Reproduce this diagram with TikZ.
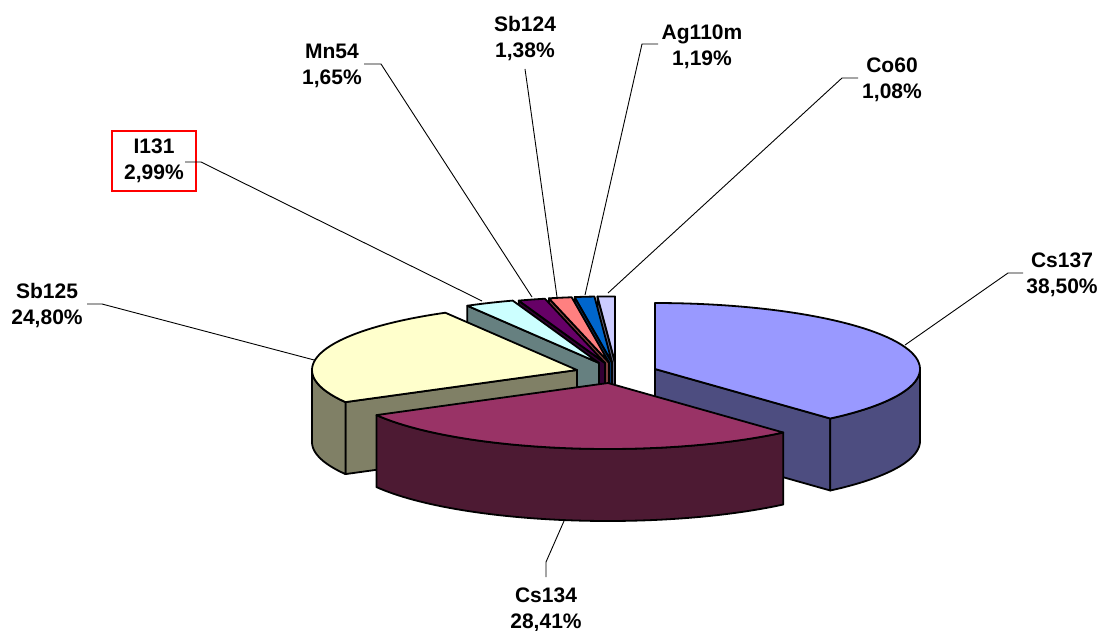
\documentclass[tikz,border=0pt]{standalone}
\usepackage{fontspec}
\setmainfont{Liberation Sans}
\definecolor{cA}{HTML}{9999FF}\definecolor{cAs}{HTML}{4D4D80}
\definecolor{cB}{HTML}{993366}\definecolor{cBs}{HTML}{4D1A33}
\definecolor{cC}{HTML}{FFFFCC}\definecolor{cCs}{HTML}{808066}
\definecolor{cD}{HTML}{CCFFFF}\definecolor{cDs}{HTML}{668080}
\definecolor{cE}{HTML}{660066}\definecolor{cEs}{HTML}{330033}
\definecolor{cF}{HTML}{FF8080}\definecolor{cFs}{HTML}{804040}
\definecolor{cG}{HTML}{0066CC}\definecolor{cGs}{HTML}{003366}
\definecolor{cH}{HTML}{CCCCFF}\definecolor{cHs}{HTML}{666680}
\def\pieRX{265}
\def\pieRY{66}
\def\pieDP{72}
\newcommand{\pieTop}[5]{%
  \path[pieedge, fill=#5] (#1,#2) -- plot[domain=#3:#4, samples=60] ({#1+\pieRX*sin(\x)},{#2-\pieRY*cos(\x)}) -- cycle;}
\newcommand{\pieSide}[5]{%
  \path[pieedge, fill=#5] plot[domain=#3:#4, samples=60] ({#1+\pieRX*sin(\x)},{#2-\pieRY*cos(\x)}) -- plot[domain=#4:#3, samples=60] ({#1+\pieRX*sin(\x)},{#2+\pieDP-\pieRY*cos(\x)}) -- cycle;}
\newcommand{\pieCut}[4]{%
  \path[pieedge, fill=#4] (#1,#2) -- ({#1+\pieRX*sin(#3)},{#2-\pieRY*cos(#3)}) -- ({#1+\pieRX*sin(#3)},{#2+\pieDP-\pieRY*cos(#3)}) -- (#1,{#2+\pieDP}) -- cycle;}
\tikzset{
  pieedge/.style={draw=black, line width=1.8pt, line join=round},
  leader/.style={draw=black, line width=0.9pt},
  lbl/.style={font=\bfseries\fontsize{21}{26}\selectfont, align=center, inner sep=0pt},
}
\begin{document}
\begin{tikzpicture}[x=1pt, y=-1pt]
\useasboundingbox (0,0) rectangle (1102,631);
% labels
\node[lbl] (lCs137) at (1062,274.5) {Cs137\\38,50\%};
\node[lbl] (lCs134) at (546,610) {Cs134\\28,41\%};
\node[lbl] (lSb125) at (47,306) {Sb125\\24,80\%};
\node[lbl, draw=red, line width=1.5pt, minimum width=84pt, minimum height=60pt] (lI131) at (154,161) {I131\\2,99\%};
\node[lbl] (lMn54) at (332,66) {Mn54\\1,65\%};
\node[lbl] (lSb124) at (525,39) {Sb124\\1,38\%};
\node[lbl] (lAg) at (702,46.5) {Ag110m\\1,19\%};
\node[lbl] (lCo60) at (892,80) {Co60\\1,08\%};
% leader coordinates
\coordinate (sCs137) at (1023,273); \coordinate (bCs137) at (1008,273); \coordinate (pCs137) at (905,345);
\coordinate (sCs134) at (546,577); \coordinate (bCs134) at (546,562); \coordinate (pCs134) at (564,521);
\coordinate (sSb125) at (87,304); \coordinate (bSb125) at (102,304); \coordinate (pSb125) at (318,361);
\coordinate (sI131) at (185,162); \coordinate (bI131) at (201,162); \coordinate (pI131) at (482,301);
\coordinate (sMn54) at (364,64); \coordinate (bMn54) at (381,64); \coordinate (pMn54) at (532,297);
\coordinate (sSb124) at (525,69); \coordinate (bSb124) at (527,83); \coordinate (pSb124) at (557,297);
\coordinate (sAg) at (658,44); \coordinate (bAg) at (642,44); \coordinate (pAg) at (585,295);
\coordinate (sCo60) at (858,78); \coordinate (bCo60) at (842,78); \coordinate (pCo60) at (608,293);
\draw[leader] (sCs137) -- (bCs137) -- (pCs137);
\draw[leader] (sCs134) -- (bCs134) -- (pCs134);
\draw[leader] (sSb125) -- (bSb125) -- (pSb125);
\draw[leader] (sI131) -- (bI131) -- (pI131);
\draw[leader] (sMn54) -- (bMn54) -- (pMn54);
\draw[leader] (sSb124) -- (bSb124) -- (pSb124);
\draw[leader] (sAg) -- (bAg) -- (pAg);
\draw[leader] (sCo60) -- (bCo60) -- (pCo60);
% pie, back to front
% Co60
\pieCut{615}{362.4}{356.2}{cHs}
\pieTop{615}{362.4}{356.2}{360}{cH}
% Ag110m
\pieCut{612}{362.4}{351.9}{cGs}
\pieTop{612}{362.4}{351.9}{356.2}{cG}
% Sb124
\pieCut{609}{362.6}{346.9}{cFs}
\pieTop{609}{362.6}{346.9}{351.9}{cF}
% Mn54
\pieCut{605}{363}{341.0}{cEs}
\pieTop{605}{363}{341.0}{346.9}{cE}
% I131
\pieCut{599}{363}{330.2}{cDs}
\pieTop{599}{363}{330.2}{341.0}{cD}
% Sb125
\pieCut{577}{370}{240.9}{cCs}
\pieSide{577}{370}{240.9}{270}{cCs}
\pieTop{577}{370}{240.9}{330.2}{cC}
% Cs137
\pieCut{655}{369}{138.6}{cAs}
\pieSide{655}{369}{90}{138.6}{cAs}
\pieTop{655}{369}{0}{138.6}{cA}
% Cs134
\pieSide{608}{383}{138.6}{240.9}{cBs}
\pieTop{608}{383}{138.6}{240.9}{cB}
\end{tikzpicture}
\end{document}
